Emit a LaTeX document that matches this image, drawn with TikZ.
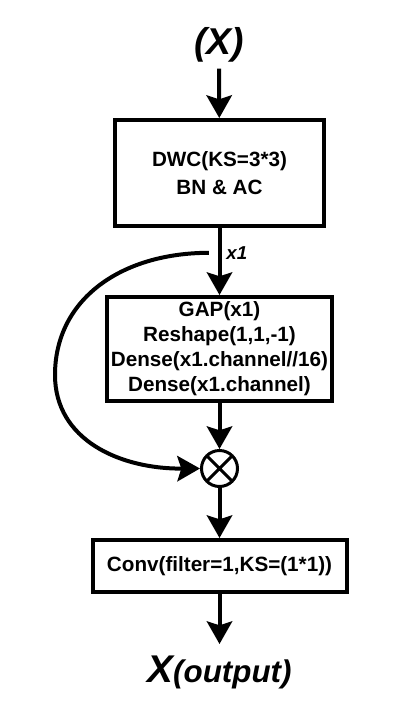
\documentclass[tikz,border=0pt]{standalone}
\usepackage{fontspec}
\setmainfont{Liberation Sans}
\usetikzlibrary{positioning, arrows.meta, calc}

\begin{document}
\begin{tikzpicture}[
  x=0.75pt, y=-0.75pt,
  block/.style={draw, line width=3pt, align=center, inner sep=0pt,
                font=\bfseries\fontsize{15.5}{18.75}\selectfont},
  arrow/.style={-{Stealth[length=17pt, width=19pt, inset=3pt]}, line width=3pt},
  mult/.style={draw, circle, line width=2.25pt, minimum size=27pt, inner sep=0pt,
               path picture={\draw[line width=2.25pt]
                 (path picture bounding box.north west) -- (path picture bounding box.south east)
                 (path picture bounding box.north east) -- (path picture bounding box.south west);}},
]
  \useasboundingbox (0,0) rectangle (416,715);
  % Input
  \node[font=\bfseries\itshape\fontsize{28}{30}\selectfont, inner sep=4.5pt] (in) at (219,45) {(X)};
  % Depthwise conv
  \node[block, minimum width=156.75pt, minimum height=79.5pt] (dwc) at (219.5,173)
    {DWC(KS=3*3)\\[2.5pt] BN \& AC};
  % Squeeze and excite
  \node[block, minimum width=168.75pt, minimum height=78pt, below=50.25pt of dwc] (se)
    {GAP(x1)\\Reshape(1,1,-1)\\Dense(x1.channel//16)\\Dense(x1.channel)};
  % Multiply
  \node[mult, below=34.5pt of se] (mul) {};
  % Pointwise conv
  \node[block, minimum width=190.5pt, minimum height=39pt, below=37.5pt of mul] (pw)
    {Conv(filter=1,KS=(1*1))};
  % Output
  \node[below=46.5pt of pw, inner sep=0pt,
        font=\bfseries\itshape\fontsize{29}{30}\selectfont] (out)
    {X{\fontsize{23.5}{24}\selectfont(output)}};
  % Branch point
  \coordinate (split) at ($(dwc.south)!0.37!(se.north)$);
  \coordinate[left=8pt of split] (branch);
  \node[right=5pt of split, anchor=west, inner sep=0pt,
        font=\bfseries\itshape\fontsize{14}{15}\selectfont] (x1) {x1};
  % Arrows
  \draw[arrow] (in) -- (dwc);
  \draw[arrow] (dwc) -- (se);
  \draw[arrow] (se) -- (mul);
  \draw[arrow] (mul) -- (pw);
  \draw[arrow, shorten >=9pt] (pw) -- (pw |- out.north);
  \draw[arrow] (branch) .. controls (120,253) and (55,300) .. (55,375)
    .. controls (55,440) and (120,469) .. (mul.west);
\end{tikzpicture}
\end{document}
